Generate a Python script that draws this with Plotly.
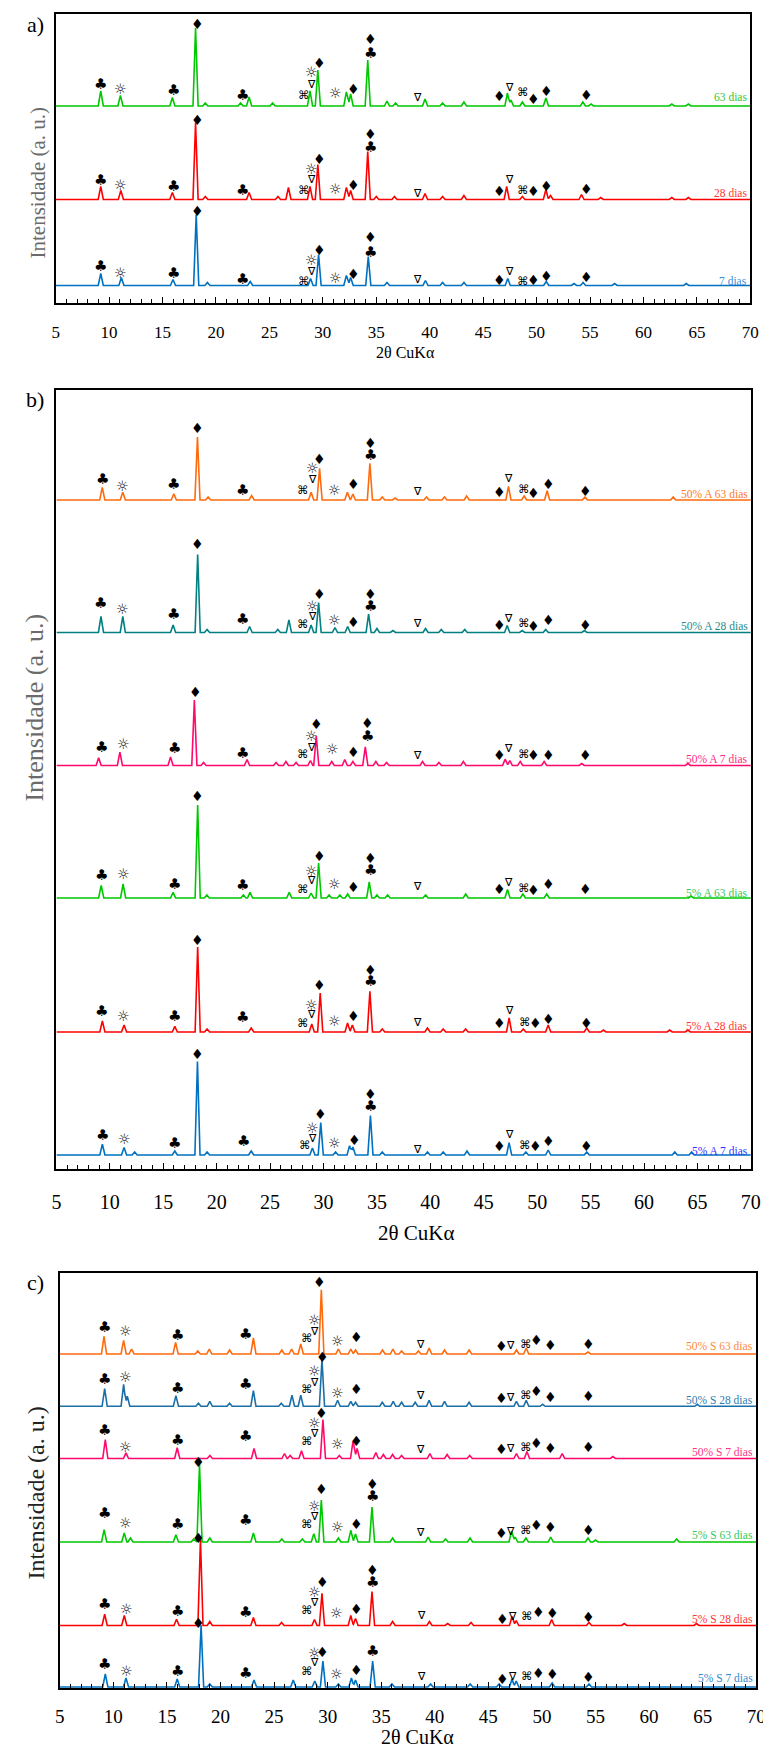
import plotly.graph_objects as go

W, H = 771, 1752
CLUB, SUN, DIA, NAB, CMD = "♣", "☼", "♦", "∇", "⌘"

# ---------------- panel a : peak positions (2θ) and intensities (a.u.) ----------------
a63_x = [9.22, 11.06, 15.92, 18.09, 19.0, 22.3, 23.1, 25.3, 28.8, 29.53, 32.2, 32.6, 34.2, 36.0, 36.8, 39.56, 41.2, 43.2, 47.27, 47.6, 48.67, 50.87, 54.33, 55.1, 62.65, 64.2]
a63_y = [15, 10.5, 8.5, 78, 3, 3, 9, 3, 15, 36, 14, 12, 46, 5, 3, 7, 3, 4, 13, 6, 4, 8, 4, 2, 2, 2]
a28_x = [9.22, 11.1, 15.92, 18.09, 19.0, 23.1, 25.8, 26.78, 28.8, 29.53, 32.2, 32.6, 34.2, 35.0, 36.7, 39.56, 41.2, 43.2, 47.2, 48.67, 50.87, 51.3, 54.2, 56.0, 62.65, 64.2]
a28_y = [13, 9, 7, 77, 3, 7, 3, 12, 13, 35, 12, 9, 48, 3, 3, 6, 3, 4, 13, 3, 10, 4, 5, 2, 2, 2]
a7_x = [9.22, 11.15, 15.98, 18.15, 19.2, 23.2, 28.85, 29.6, 32.2, 32.6, 34.25, 36.0, 39.6, 41.2, 43.2, 47.3, 50.9, 53.5, 54.35, 57.3, 64.0]
a7_y = [12, 8, 6, 71, 3, 4, 7, 31, 10, 8, 29, 3, 5, 3, 3, 7, 4, 2, 3, 2, 2]

# ---------------- panel b ----------------
bo63_x = [9.29, 11.21, 15.99, 18.2, 19.2, 23.27, 28.84, 29.63, 32.23, 32.75, 34.34, 35.5, 36.7, 39.64, 41.32, 43.4, 47.31, 48.78, 50.93, 54.47, 62.73]
bo63_y = [12.7, 7.7, 6.3, 63, 3, 4.4, 7.7, 31.7, 7.7, 6, 36.7, 3, 2, 3, 3, 4, 13.7, 4, 9.3, 3, 3]
bt28_x = [9.17, 11.21, 15.92, 18.22, 19.1, 23.08, 25.72, 26.76, 28.84, 29.54, 31.07, 32.26, 34.22, 35.0, 36.5, 39.55, 41.02, 43.22, 47.19, 48.6, 50.8, 54.42]
bt28_y = [16, 16, 7.6, 78, 3, 6, 3, 12.6, 7.6, 30, 5, 6, 18.3, 4, 2, 4, 3, 3, 7, 2, 3, 2]
bp7_x = [8.95, 10.94, 15.68, 17.91, 18.77, 22.84, 25.56, 26.48, 27.43, 28.77, 29.32, 30.77, 31.99, 32.75, 33.91, 34.9, 35.9, 39.27, 40.8, 43.09, 47.0, 47.44, 48.41, 50.65, 54.17, 64.11]
bp7_y = [7.7, 13.4, 8.4, 65.4, 3, 6, 3, 4, 3, 5, 29.4, 4, 6, 4, 18.7, 4, 3, 4, 3, 4, 6.3, 5, 4, 4, 2, 2]
bg63_x = [9.19, 11.24, 15.92, 18.22, 19.08, 22.5, 23.12, 26.79, 28.84, 29.54, 30.52, 31.53, 32.26, 34.28, 35.0, 36.0, 39.55, 43.31, 47.22, 48.66, 50.89, 64.4]
bg63_y = [12.7, 14, 5.7, 93, 3, 3, 5.7, 5.7, 5, 35, 3, 3, 4, 16, 3, 3, 3, 4, 8.4, 4, 4, 2]
br28_x = [9.3, 11.33, 16.08, 18.22, 19.1, 23.23, 28.9, 29.69, 32.25, 32.7, 34.34, 35.5, 39.73, 41.2, 43.3, 47.37, 48.7, 51.03, 54.64, 56.2, 62.4, 64.1]
br28_y = [11, 7, 5.7, 85, 3, 4, 8, 39, 9, 7, 40.7, 3, 4, 3, 3, 14, 3, 7, 4, 2, 2, 2]
bb7_x = [9.3, 11.33, 12.32, 16.08, 18.2, 19.1, 23.23, 28.96, 29.74, 31.13, 32.44, 32.75, 34.39, 35.5, 39.73, 41.2, 43.43, 47.37, 48.94, 51.03, 54.64, 62.88, 64.46]
bb7_y = [10.7, 7.4, 3, 4, 93.4, 3, 4, 7, 32.4, 3, 9.4, 8, 39.4, 3, 3, 3, 4, 12.4, 3, 5, 3, 3, 3]

# ---------------- panel c ----------------
co63_x = [9.13, 10.96, 11.7, 15.81, 17.88, 18.95, 20.85, 23.07, 25.72, 26.64, 27.49, 29.41, 31.0, 32.16, 32.6, 35.12, 36.09, 36.9, 38.47, 39.47, 40.91, 43.2, 47.62, 48.53, 54.3]
co63_y = [17.7, 13.7, 5, 11.7, 3, 5, 4, 16, 4, 5, 10, 64.3, 5, 5, 4, 4, 5, 3, 3, 6, 4, 4, 4, 6, 2]
cb28_x = [9.19, 10.96, 11.3, 15.84, 17.94, 19.0, 20.85, 23.07, 25.67, 26.67, 27.49, 29.47, 30.93, 32.16, 32.6, 35.1, 36.12, 36.9, 38.17, 39.47, 40.91, 43.2, 47.62, 48.53, 50.06, 64.5]
cb28_y = [17.7, 22, 10, 10.7, 3, 5, 3, 15.7, 3, 11, 11, 46.7, 6, 5, 4, 4, 5, 4, 4, 6, 5, 4, 5, 6, 2, 2]
cp7_x = [9.25, 11.18, 15.96, 19.01, 23.13, 25.97, 26.5, 27.56, 29.56, 31.09, 32.37, 32.75, 34.5, 35.2, 36.06, 36.9, 39.54, 41.15, 43.26, 47.62, 48.6, 51.89, 56.62]
cp7_y = [19, 5.7, 10.7, 3, 10, 5, 3, 7.7, 39, 3, 17.3, 10, 6, 4, 4, 3, 5, 4, 3, 5, 7, 5, 2]
cg63_x = [9.14, 11.02, 11.6, 15.84, 17.5, 18.04, 19.0, 23.07, 25.72, 27.64, 28.71, 29.41, 31.0, 32.16, 32.6, 34.14, 36.06, 39.38, 41.0, 43.29, 47.16, 47.5, 48.5, 50.82, 54.3, 55.0, 62.57]
cg63_y = [12.3, 9, 4, 7.3, 3, 78, 4, 9, 3, 3, 8.3, 42, 4, 11.7, 8, 35, 4, 5, 3, 4, 10.7, 5, 4, 5, 4, 2, 3]
cr28_x = [9.19, 11.02, 15.9, 18.13, 19.0, 23.07, 25.7, 28.77, 29.47, 32.16, 32.6, 34.14, 36.06, 39.5, 41.2, 43.38, 47.21, 47.6, 50.91, 54.39, 57.68, 64.42]
cr28_y = [11.3, 10, 6.3, 86, 4, 8, 3, 6, 32.3, 10, 7, 34, 4, 4, 2, 3, 9, 5, 6, 3, 2, 2]
cb7_x = [9.25, 11.18, 15.96, 18.19, 19.0, 23.13, 26.79, 28.8, 29.56, 31.0, 32.22, 32.6, 34.2, 36.0, 39.6, 43.3, 46.0, 47.21, 47.6, 50.95, 54.39]
cb7_y = [13, 9, 8, 62, 3, 7, 7, 6, 26, 3, 9, 7, 26, 3, 3, 3, 3, 8, 6, 4, 3]

# ---------------- phase marks: (symbol, 2θ, height above the pattern baseline) ----------------
m_a63 = [(CLUB, 9.2, 22), (SUN, 11.1, 18), (CLUB, 16.0, 16.5), (DIA, 18.25, 82), (CLUB, 22.45, 11.5), (CMD, 28.2, 11), (NAB, 28.95, 22), (SUN, 28.95, 35), (DIA, 29.7, 43), (SUN, 31.15, 14), (DIA, 32.9, 17), (CLUB, 34.45, 53), (DIA, 34.45, 67.5), (NAB, 38.86, 9), (DIA, 46.53, 10), (NAB, 47.5, 19), (CMD, 48.73, 14), (DIA, 49.74, 7.5), (DIA, 50.9, 15.5), (DIA, 54.7, 11)]
m_a28 = [(CLUB, 9.2, 20), (SUN, 11.1, 15.5), (CLUB, 16.0, 14), (DIA, 18.25, 80), (CLUB, 22.45, 10), (CMD, 28.2, 10), (NAB, 28.95, 20), (SUN, 28.95, 31.5), (DIA, 29.7, 41), (SUN, 31.15, 11.5), (DIA, 32.9, 15), (CLUB, 34.45, 53), (DIA, 34.45, 66), (NAB, 38.86, 6), (DIA, 46.53, 9), (NAB, 47.5, 20.5), (CMD, 48.7, 10), (DIA, 49.74, 9), (DIA, 50.9, 14), (DIA, 54.7, 10.5)]
m_a7 = [(CLUB, 9.2, 20), (SUN, 11.1, 14), (CLUB, 16.0, 12.5), (DIA, 18.25, 75), (CLUB, 22.45, 7), (CMD, 28.2, 5), (NAB, 28.95, 14), (SUN, 28.95, 27), (DIA, 29.7, 36), (SUN, 31.15, 9), (DIA, 32.9, 12), (CLUB, 34.45, 34), (DIA, 34.45, 48.5), (NAB, 38.86, 6.5), (DIA, 46.53, 6), (NAB, 47.5, 14), (CMD, 48.7, 5), (DIA, 49.74, 6), (DIA, 50.9, 10), (DIA, 54.7, 9)]

m_bo63 = [(CLUB, 9.29, 21), (SUN, 11.21, 15), (CLUB, 16.0, 16), (DIA, 18.25, 72), (CLUB, 22.44, 10), (CMD, 28.12, 10), (NAB, 28.93, 20), (SUN, 28.93, 33), (DIA, 29.63, 41), (SUN, 31.07, 11), (DIA, 32.81, 16), (CLUB, 34.37, 45), (DIA, 34.37, 57), (NAB, 38.78, 8), (DIA, 46.46, 8), (NAB, 47.29, 21), (CMD, 48.72, 11), (DIA, 49.67, 7), (DIA, 51.02, 16), (DIA, 54.54, 9)]
m_bt28 = [(CLUB, 9.17, 29), (SUN, 11.21, 24), (CLUB, 16.0, 18), (DIA, 18.22, 88), (CLUB, 22.44, 13), (CMD, 28.12, 8), (NAB, 28.93, 16), (SUN, 28.93, 27), (DIA, 29.63, 38), (SUN, 31.07, 13), (DIA, 32.81, 10.5), (CLUB, 34.37, 26), (DIA, 34.37, 38.5), (NAB, 38.78, 9), (DIA, 46.46, 7), (NAB, 47.29, 14), (CMD, 48.72, 9), (DIA, 49.67, 6), (DIA, 51.02, 12), (DIA, 54.54, 7)]
m_bp7 = [(CLUB, 9.19, 18.5), (SUN, 11.24, 22), (CLUB, 16.01, 17.5), (DIA, 18.0, 73.5), (CLUB, 22.44, 12.5), (CMD, 28.12, 11), (NAB, 28.84, 18), (SUN, 28.84, 30), (DIA, 29.32, 41.5), (SUN, 30.86, 17), (DIA, 32.81, 13.5), (CLUB, 34.07, 29), (DIA, 34.07, 42), (NAB, 38.78, 10), (DIA, 46.46, 10), (NAB, 47.29, 17), (CMD, 48.72, 11.5), (DIA, 49.67, 10), (DIA, 51.02, 10), (DIA, 54.54, 10)]
m_bg63 = [(CLUB, 9.19, 23), (SUN, 11.24, 25), (CLUB, 16.01, 14), (DIA, 18.22, 102), (CLUB, 22.44, 13), (CMD, 28.12, 9), (NAB, 28.84, 17), (SUN, 28.84, 28), (DIA, 29.63, 42), (SUN, 30.99, 15), (DIA, 32.81, 11), (CLUB, 34.37, 28), (DIA, 34.37, 40), (NAB, 38.78, 11), (DIA, 46.46, 8.5), (NAB, 47.29, 15), (CMD, 48.72, 9.5), (DIA, 49.67, 7.5), (DIA, 51.02, 13.5), (DIA, 54.54, 8.5)]
m_br28 = [(CLUB, 9.19, 21), (SUN, 11.24, 17), (CLUB, 16.01, 16), (DIA, 18.22, 92), (CLUB, 22.44, 15), (CMD, 28.12, 9), (NAB, 28.84, 17), (SUN, 28.84, 28), (DIA, 29.63, 47), (SUN, 30.99, 12), (DIA, 32.81, 16), (CLUB, 34.37, 51), (DIA, 34.37, 62), (NAB, 38.8, 9), (DIA, 46.51, 9), (NAB, 47.37, 21), (CMD, 48.87, 10), (DIA, 49.86, 9), (DIA, 51.03, 13), (DIA, 54.64, 9)]
m_bb7 = [(CLUB, 9.3, 20), (SUN, 11.33, 17), (CLUB, 16.08, 12), (DIA, 18.2, 101), (CLUB, 22.55, 13.7), (CMD, 28.24, 10), (NAB, 28.96, 17), (SUN, 28.96, 28), (DIA, 29.7, 41), (SUN, 31.0, 13), (DIA, 32.9, 15), (CLUB, 34.39, 49), (DIA, 34.39, 61), (NAB, 38.82, 6), (DIA, 46.51, 9), (NAB, 47.37, 21), (CMD, 48.87, 10), (DIA, 49.86, 9), (DIA, 51.03, 14), (DIA, 54.64, 9)]

m_co63 = [(CLUB, 9.19, 27), (SUN, 11.18, 24), (CLUB, 15.96, 19), (CLUB, 22.31, 20), (CMD, 28.05, 16), (NAB, 28.77, 23), (SUN, 28.77, 35), (DIA, 29.26, 72), (SUN, 30.91, 14), (DIA, 32.68, 17), (NAB, 38.69, 10), (DIA, 46.25, 8), (NAB, 47.1, 9), (CMD, 48.53, 10), (DIA, 49.51, 14), (DIA, 50.82, 9), (DIA, 54.33, 10)]
m_cb28 = [(CLUB, 9.19, 27), (SUN, 11.18, 30), (CLUB, 15.96, 18), (CLUB, 22.31, 22), (CMD, 28.05, 17), (NAB, 28.77, 24), (SUN, 28.77, 36), (DIA, 29.5, 49), (SUN, 30.91, 14), (DIA, 32.68, 17), (NAB, 38.69, 11), (DIA, 46.25, 8), (NAB, 47.1, 9), (CMD, 48.53, 11), (DIA, 49.51, 15), (DIA, 50.82, 9), (DIA, 54.33, 10)]
m_cp7 = [(CLUB, 9.13, 29), (SUN, 11.18, 13), (CLUB, 15.96, 19), (CLUB, 22.31, 23), (CMD, 28.05, 18), (NAB, 28.77, 25.5), (SUN, 28.77, 36.5), (DIA, 29.47, 46), (SUN, 30.91, 15.5), (DIA, 32.68, 18), (NAB, 38.69, 9.5), (DIA, 46.25, 10), (NAB, 47.1, 10.5), (CMD, 48.53, 12), (DIA, 49.51, 16), (DIA, 50.82, 10.5), (DIA, 54.33, 11.5)]
m_cg63 = [(CLUB, 9.13, 29), (SUN, 11.18, 20), (CLUB, 15.96, 18), (DIA, 17.97, 80), (CLUB, 22.31, 22), (CMD, 28.05, 18), (NAB, 28.77, 26), (SUN, 28.77, 37), (DIA, 29.47, 53), (SUN, 30.91, 16), (DIA, 32.68, 18), (CLUB, 34.2, 46), (DIA, 34.2, 58), (NAB, 38.69, 10), (DIA, 46.25, 9), (NAB, 47.1, 11), (CMD, 48.53, 12), (DIA, 49.51, 17), (DIA, 50.82, 15), (DIA, 54.33, 12)]
m_cr28 = [(CLUB, 9.19, 22), (SUN, 11.22, 17.5), (CLUB, 15.99, 15), (DIA, 17.97, 87.5), (CLUB, 22.31, 14), (CMD, 28.05, 16), (NAB, 28.77, 23), (SUN, 28.77, 35), (DIA, 29.5, 43.5), (SUN, 30.85, 13.5), (DIA, 32.68, 16.5), (CLUB, 34.2, 43.5), (DIA, 34.2, 56), (NAB, 38.75, 10), (DIA, 46.3, 7), (NAB, 47.21, 9), (CMD, 48.56, 10), (DIA, 49.64, 13.5), (DIA, 50.95, 12.5), (DIA, 54.39, 9)]
m_cb7 = [(CLUB, 9.19, 23), (SUN, 11.22, 17), (CLUB, 15.99, 16.5), (DIA, 17.97, 64), (CLUB, 22.31, 14), (CMD, 28.05, 16), (NAB, 28.77, 24.5), (SUN, 28.77, 35), (DIA, 29.5, 35), (SUN, 30.85, 14), (DIA, 32.68, 17), (CLUB, 34.2, 36.5), (NAB, 38.75, 11), (DIA, 46.3, 8), (NAB, 47.21, 10.5), (CMD, 48.56, 11), (DIA, 49.64, 14), (DIA, 50.95, 13), (DIA, 54.39, 10)]

labels_a = ["63 dias", "28 dias", "7 dias"]
labels_b = ["50% A 63 dias", "50% A 28 dias", "50% A 7 dias", "5% A 63 dias", "5% A 28 dias", "5% A 7 dias"]
labels_c = ["50% S 63 dias", "50% S 28 dias", "50% S 7 dias", "5% S 63 dias", "5% S 28 dias", "5% S 7 dias"]
xticks = [5, 10, 15, 20, 25, 30, 35, 40, 45, 50, 55, 60, 65, 70]

# ---------------- layout / style ----------------
GREEN, RED, BLUE = "#00C800", "#FF0000", "#0070C0"
ORANGE, TEAL, PINK, BLUE2 = "#FF6A0D", "#008080", "#FF0A6C", "#1B6FA8"
SERIF = "Liberation Serif"
SYMSIZE = {CLUB: 15, DIA: 14, SUN: 14, NAB: 11, CMD: 11.5}
SYMFONT = {CLUB: "DejaVu Sans", DIA: "DejaVu Sans", SUN: "Noto Sans CJK JP, DejaVu Sans",
           NAB: "DejaVu Sans", CMD: "DejaVu Sans"}
HW = 0.24  # half base width of drawn peaks


def profile(px, py):
    xs = sorted(set([5.0, 70.0] + [p + d for p in px for d in (-HW, 0.0, HW)]))
    ys = []
    for x in xs:
        v = 0.0
        for p, h in zip(px, py):
            t = 1 - abs(x - p) / HW
            if t > 0:
                v = max(v, h * t)
        ys.append(v)
    return xs, ys


def px2x(p):
    return p / W


def py2y(p):
    return 1 - p / H


# panel boxes in pixels: left, right, top, bottom
boxes = {
    "a": (43.5, 752.0, 6.0, 295.0),
    "b": (44.3, 752.5, 382.0, 1161.0),
    "c": (47.7, 758.0, 1265.0, 1680.0),
}
panels = [
    ("a", "x", "y", [(a63_x, a63_y, m_a63), (a28_x, a28_y, m_a28), (a7_x, a7_y, m_a7)],
     [GREEN, RED, BLUE], ["#33C833", "#FF3333", "#3A8FD6"], labels_a, [197, 103.5, 17.5], [9, 6.5, 5]),
    ("b", "x2", "y2", [(bo63_x, bo63_y, m_bo63), (bt28_x, bt28_y, m_bt28), (bp7_x, bp7_y, m_bp7),
                       (bg63_x, bg63_y, m_bg63), (br28_x, br28_y, m_br28), (bb7_x, bb7_y, m_bb7)],
     [ORANGE, TEAL, PINK, GREEN, RED, BLUE], ["#FF7A26", "#1F8A8A", "#FF2A7F", "#33C85A", "#FF3333", "#3333FF"],
     labels_b, [669, 536.5, 403.5, 271, 137, 14], [5.5, 6, 6.5, 4.5, 5.7, 4.5]),
    ("c", "x3", "y3", [(co63_x, co63_y, m_co63), (cb28_x, cb28_y, m_cb28), (cp7_x, cp7_y, m_cp7),
                       (cg63_x, cg63_y, m_cg63), (cr28_x, cr28_y, m_cr28), (cb7_x, cb7_y, m_cb7)],
     [ORANGE, BLUE2, PINK, GREEN, RED, BLUE], ["#FF8A3A", "#2E7DB0", "#FF3385", "#33C85A", "#FF3333", "#2E8BD0"],
     labels_c, [334, 281.7, 229.5, 146, 62.5, 1.0], [7.7, 6.6, 6.5, 7.3, 7, 9]),
]
tickfont_sizes = {"a": 17, "b": 20, "c": 19}
standoffs = {"a": 13, "b": 14, "c": 10}

fig = go.Figure()
annotations = []
layout_axes = {}

for key, xa, ya, series, colors, lcolors, labels, offsets, lab_dy in panels:
    l, r, t, b = boxes[key]
    hpx = b - t
    for (sx, sy, marks), col, lcol, lab, off, dy in zip(series, colors, lcolors, labels, offsets, lab_dy):
        xs, ys = profile(sx, sy)
        fig.add_trace(go.Scatter(x=xs, y=[v + off for v in ys], xaxis=xa, yaxis=ya, mode="lines",
                                 line=dict(color=col, width=1.6), showlegend=False, hoverinfo="skip"))
        for sym, x, lvl in marks:
            annotations.append(dict(x=x, y=off + lvl, xref=xa, yref=ya, text=sym, showarrow=False,
                                    xanchor="center", yanchor="middle",
                                    font=dict(family=SYMFONT[sym], size=SYMSIZE[sym], color="#000000")))
        annotations.append(dict(x=70, y=off + dy, xref=xa, yref=ya, text=lab, showarrow=False,
                                xanchor="right", yanchor="middle", xshift=-1,
                                font=dict(family=SERIF, size=11.5, color=lcol)))
    xname = "xaxis" if xa == "x" else "xaxis" + xa[1:]
    yname = "yaxis" if ya == "y" else "yaxis" + ya[1:]
    layout_axes[xname] = dict(
        domain=[px2x(l), px2x(r)], anchor=ya, range=[5, 70], tickmode="array", tickvals=xticks,
        ticktext=[str(v) for v in xticks], ticks="inside", ticklen=6, tickwidth=1.3, tickcolor="black",
        minor=dict(dtick=1, tick0=5, ticks="inside", ticklen=4, tickwidth=1, tickcolor="black"),
        showline=True, linecolor="black", linewidth=1.8, mirror=True, showgrid=False, zeroline=False,
        tickfont=dict(family=SERIF, size=tickfont_sizes[key], color="black"),
        ticklabelstandoff=standoffs[key], fixedrange=True)
    layout_axes[yname] = dict(
        domain=[py2y(b), py2y(t)], anchor=xa, range=[0, hpx], showticklabels=False, ticks="",
        showline=True, linecolor="black", linewidth=1.8, mirror=True, showgrid=False, zeroline=False,
        fixedrange=True)

# panel letters, axis titles
texts = [
    ("a)", 23, 16.5, 22, 0, "black"), ("b)", 22, 392, 22, 0, "black"), ("c)", 23, 1274, 22, 0, "black"),
    ("2θ CuKα", 400, 344, 16, 0, "black"), ("2θ CuKα", 411, 1225, 21, 0, "black"), ("2θ CuKα", 413, 1729, 20, 0, "black"),
    ("Intensidade (a. u.)", 25, 175, 21, -90, "#6b6b6b"), ("Intensidade (a. u.)", 21, 700, 26, -90, "#6b6b6b"),
    ("Intensidade (a. u.)", 23, 1485, 24, -90, "#222222"),
]
for txt, x, y, size, ang, col in texts:
    annotations.append(dict(x=px2x(x), y=py2y(y), xref="paper", yref="paper", text=txt, showarrow=False,
                            xanchor="center", yanchor="middle", textangle=ang,
                            font=dict(family=SERIF, size=size, color=col)))

fig.update_layout(width=W, height=H, autosize=False, margin=dict(l=0, r=0, t=0, b=0),
                  paper_bgcolor="white", plot_bgcolor="white", showlegend=False,
                  annotations=annotations, **layout_axes)
fig.write_html("out.html")
